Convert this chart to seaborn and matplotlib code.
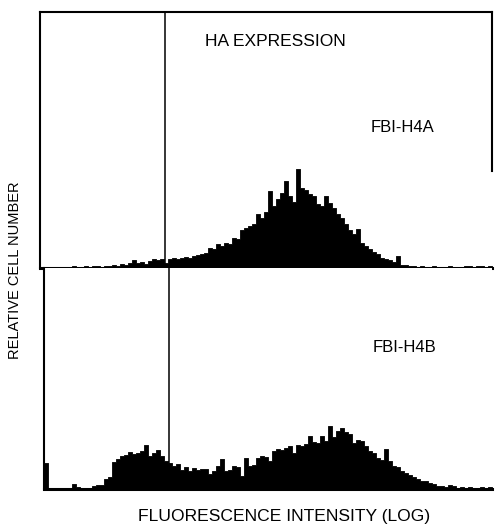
import numpy as np
import pandas as pd
import seaborn as sns
import matplotlib.pyplot as plt

# relative cell number per log channel
h4a_counts = [1, 1, 1, 1, 1, 1, 1, 1, 2, 1, 1, 2, 1, 2, 2, 1, 2, 2, 3, 2,
              4, 3, 5, 8, 5, 6, 4, 7, 9, 8, 9, 5, 9, 10, 9, 10, 11, 10, 12, 13,
              14, 15, 20, 19, 24, 22, 25, 24, 30, 29, 38, 40, 42, 44, 54, 50, 56, 77, 62, 69,
              75, 87, 72, 66, 99, 80, 78, 74, 72, 64, 62, 72, 65, 60, 54, 50, 44, 38, 34, 39,
              25, 22, 19, 16, 14, 10, 9, 8, 6, 12, 3, 3, 2, 2, 1, 2, 1, 1, 2, 1,
              1, 1, 2, 1, 1, 1, 2, 2, 1, 2, 2, 1, 2]
h4b_counts = [26, 1, 0, 1, 0, 1, 1, 5, 2, 1, 1, 1, 3, 4, 4, 10, 12, 27, 30, 33,
              34, 37, 35, 36, 38, 44, 33, 36, 39, 33, 28, 26, 23, 25, 19, 22, 18, 21, 19, 20,
              20, 15, 18, 23, 30, 18, 19, 23, 22, 13, 31, 23, 24, 31, 33, 32, 28, 38, 40, 39,
              41, 43, 36, 44, 43, 45, 53, 47, 46, 53, 48, 63, 52, 58, 61, 57, 55, 46, 49, 48,
              43, 38, 36, 31, 29, 40, 28, 23, 22, 18, 16, 14, 12, 10, 8, 8, 6, 5, 3, 3,
              2, 4, 3, 1, 2, 1, 2, 1, 1, 2, 1, 2]
gate_channel = 30.75
panel_labels = ['FBI-H4A', 'FBI-H4B']

df_a = pd.DataFrame({'channel': np.arange(len(h4a_counts)), 'count': h4a_counts})
df_b = pd.DataFrame({'channel': np.arange(len(h4b_counts)), 'count': h4b_counts})

sns.set_style('white')
plt.rcParams['font.family'] = ['Liberation Sans', 'DejaVu Sans']
plt.rcParams['text.color'] = 'black'

W, H = 496, 527
fig = plt.figure(figsize=(W / 100, H / 100), dpi=100)

def box(left, top, right, bottom):
    return [left / W, 1 - bottom / H, (right - left) / W, (bottom - top) / H]

ax_a = fig.add_axes(box(40, 12, 492, 268))
ax_b = fig.add_axes(box(44, 268, 492, 489))

for ax, df, top in [(ax_a, df_a, 256), (ax_b, df_b, 221)]:
    sns.histplot(data=df, x='channel', weights='count', discrete=True,
                 element='step', fill=True, color='black', alpha=1,
                 linewidth=0.6, ax=ax)
    ax.axvline(gate_channel, color='black', lw=1.1)
    ax.set_xlim(-0.5, len(df) - 0.5)
    ax.set_ylim(0, top)
    ax.set_xticks([])
    ax.set_yticks([])
    ax.set_xlabel('')
    ax.set_ylabel('')
    for s in ax.spines.values():
        s.set_color('black')
        s.set_linewidth(1.5)
    ax.spines['bottom'].set_linewidth(2.2)

ax_a.spines['right'].set_bounds(97, 256)
ax_b.spines['top'].set_visible(False)
ax_b.spines['right'].set_visible(False)

fig.text(275 / W, 1 - 42 / H, 'HA EXPRESSION', ha='center', va='center', fontsize=12.5)
fig.text(402 / W, 1 - 127 / H, panel_labels[0], ha='center', va='center', fontsize=12)
fig.text(404 / W, 1 - 348 / H, panel_labels[1], ha='center', va='center', fontsize=12)
fig.text(15 / W, 1 - 270 / H, 'RELATIVE CELL NUMBER', rotation=90,
         ha='center', va='center', fontsize=10.5)
fig.text(284 / W, 1 - 516 / H, 'FLUORESCENCE INTENSITY (LOG)',
         ha='center', va='center', fontsize=12.6)

fig.savefig('out.png', dpi=100)
